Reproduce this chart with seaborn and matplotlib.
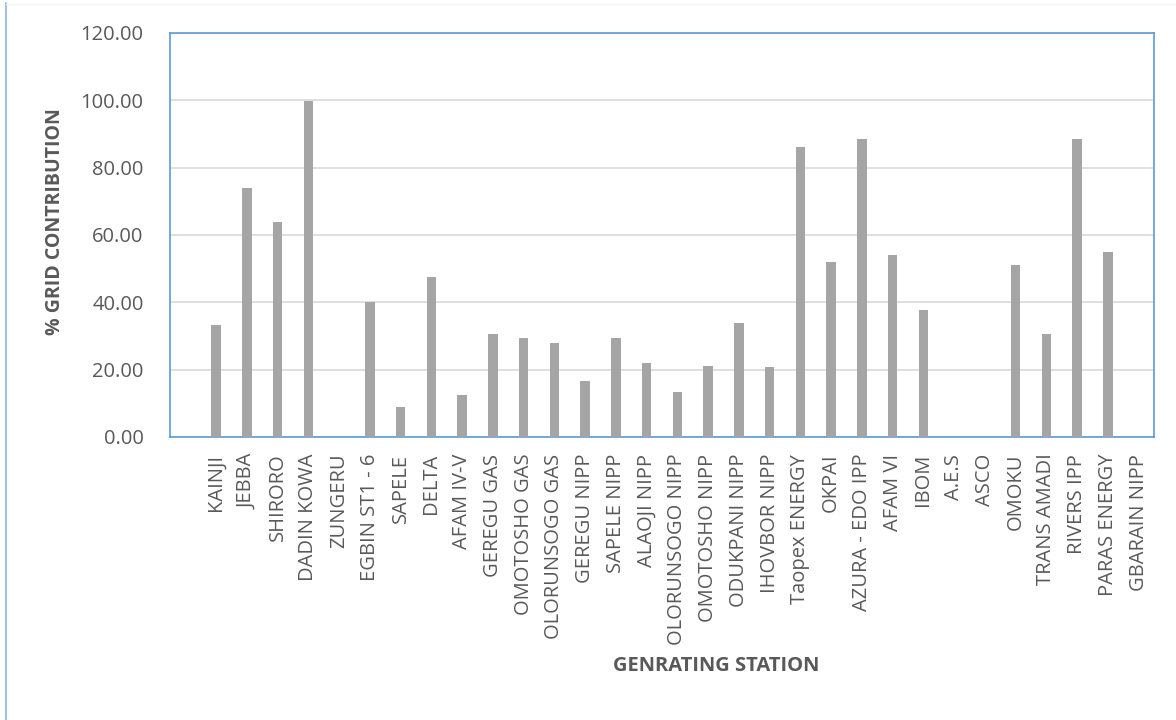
import matplotlib
matplotlib.use("Agg")
import matplotlib.pyplot as plt
import seaborn as sns
import pandas as pd
from matplotlib.lines import Line2D

stations = ["KAINJI", "JEBBA", "SHIRORO", "DADIN KOWA", "ZUNGERU", "EGBIN ST1 - 6",
            "SAPELE", "DELTA", "AFAM IV-V", "GEREGU GAS", "OMOTOSHO GAS",
            "OLORUNSOGO GAS", "GEREGU NIPP", "SAPELE NIPP", "ALAOJI NIPP",
            "OLORUNSOGO NIPP", "OMOTOSHO NIPP", "ODUKPANI NIPP", "IHOVBOR NIPP",
            "Taopex ENERGY", "OKPAI", "AZURA - EDO IPP", "AFAM VI", "IBOM", "A.E.S",
            "ASCO", "OMOKU", "TRANS AMADI", "RIVERS IPP", "PARAS ENERGY", "GBARAIN NIPP"]
contribution = [33.2, 73.9, 64.0, 99.7, 0.0, 40.2,
                8.9, 47.6, 12.6, 30.7, 29.3,
                28.0, 16.7, 29.5, 22.1,
                13.5, 21.0, 33.9, 20.7,
                86.0, 52.0, 88.6, 54.1, 37.8, 0.0,
                0.0, 51.0, 30.6, 88.6, 55.0, 0.0]
y_ticks = [0, 20, 40, 60, 80, 100, 120]

df = pd.DataFrame({"station": stations, "value": contribution})

sns.set_theme(style="white")
plt.rcParams["font.family"] = ["Open Sans", "DejaVu Sans"]

L, R, T, B = 170, 1154, 33, 437
fig = plt.figure(figsize=(11.76, 7.2), dpi=100)
ax = fig.add_axes([L/1176, 1 - B/720, (R-L)/1176, (B-T)/720])

sns.barplot(data=df, x="station", y="value", order=stations, color="#a5a5a5",
            width=0.31, saturation=1, linewidth=0, ax=ax, zorder=3)

ax.set_xlim(-1.5, len(stations) - 0.5)
ax.set_ylim(0, 120)
ax.set_yticks(y_ticks)
ax.set_yticklabels([f"{v:.2f}" for v in y_ticks], fontsize=14.5, color="#595959")
ax.yaxis.grid(True, color="#d9d9d9", linewidth=1.2, zorder=0)
ax.set_axisbelow(True)
ax.set_xticks(range(len(stations)))
ax.set_xticklabels(stations, rotation=90, fontsize=14.5, color="#595959")
ax.tick_params(axis="both", length=0)
ax.tick_params(axis="x", pad=12)
ax.tick_params(axis="y", pad=19)

for s in ax.spines.values():
    s.set_visible(True)
    s.set_color("#5b9bd5")
    s.set_linewidth(1.2)

ax.set_xlabel("GENRATING STATION", fontsize=14.5, fontweight="bold", color="#595959",
              va="center")
ax.set_ylabel("% GRID CONTRIBUTION", fontsize=14, fontweight="bold", color="#595959",
              va="center")
ax.xaxis.set_label_coords((716-L)/(R-L), -(666-B)/(B-T))
ax.yaxis.set_label_coords(-(L-55)/(R-L), (B-222)/(B-T))

# chart-area border
fig.add_artist(Line2D([6/1176, 6/1176], [0, 1 - 3/720], color="#9dc3e6", linewidth=1.5))
fig.add_artist(Line2D([6/1176, 1], [1 - 4/720, 1 - 4/720], color="#eef4fb", linewidth=1))

fig.savefig("out.png", dpi=100, facecolor="white")
